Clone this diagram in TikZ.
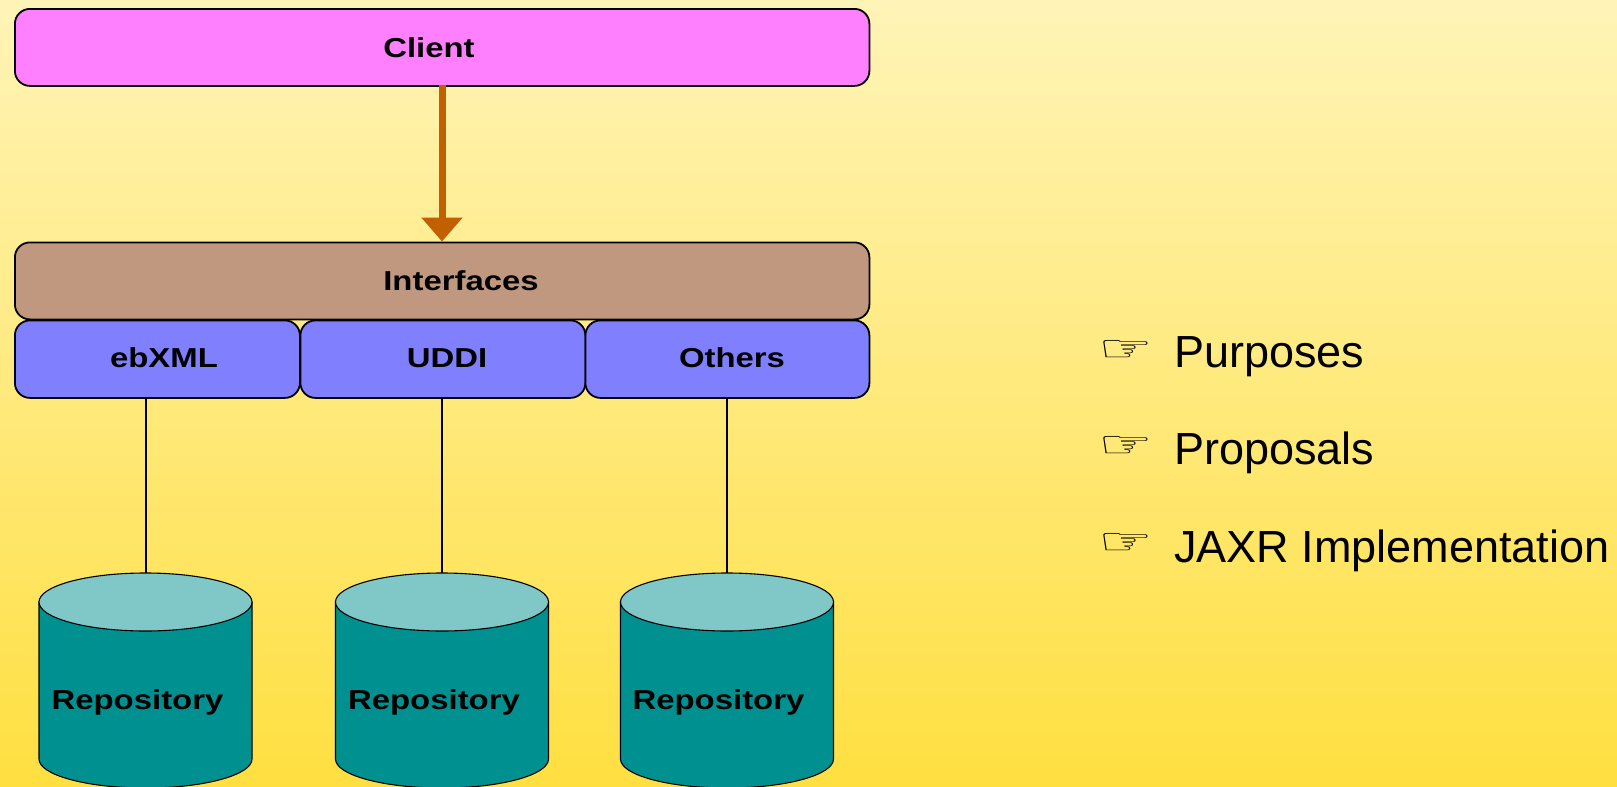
\documentclass[tikz,border=0pt]{standalone}
\usepackage{fontspec}
\setmainfont{Liberation Sans}
\newfontfamily\boldwide[FakeStretch=1.2]{Liberation Sans Bold}
\newfontfamily\handfont[FakeStretch=1.65]{DejaVu Sans}
\usetikzlibrary{arrows.meta}
\definecolor{bgtop}{HTML}{FFF4B8}
\definecolor{bgbot}{HTML}{FFDF40}
\definecolor{clientfill}{HTML}{FF80FF}
\definecolor{ifacefill}{HTML}{C09880}
\definecolor{protofill}{HTML}{8080FF}
\definecolor{cylbody}{HTML}{009090}
\definecolor{cyltop}{HTML}{80C7C7}
\definecolor{arrowcol}{HTML}{C06000}
\tikzset{
  layerbox/.style={draw=black,line width=1.8pt,rounded corners=15pt,inner sep=0pt,anchor=north west},
  boxlabel/.style={font=\boldwide\fontsize{27.4}{30}\selectfont,anchor=base,inner sep=0pt,text=black},
  link/.style={draw=black,line width=2pt},
  bullet/.style={font=\fontsize{45}{50}\selectfont,anchor=base west,inner sep=0pt,text=black},
  hand/.style={font=\handfont\fontsize{37}{40}\selectfont,anchor=base west,inner sep=0pt,text=black},
  pics/repocyl/.style={code={
    \coordinate (-top) at (0,0);
    \draw[fill=cylbody,draw=black,line width=1.1pt]
      (-106.5,29) -- (-106.5,186)
      .. controls (-106.5,202) and (-58.8,215) .. (0,215)
      .. controls (58.8,215) and (106.5,202) .. (106.5,186)
      -- (106.5,29) -- cycle;
    \draw[fill=cyltop,draw=black,line width=1.1pt]
      (-106.5,29) .. controls (-106.5,13) and (-58.8,0) .. (0,0)
      .. controls (58.8,0) and (106.5,13) .. (106.5,29)
      .. controls (106.5,45) and (58.8,58) .. (0,58)
      .. controls (-58.8,58) and (-106.5,45) .. (-106.5,29) -- cycle;
  }},
}
\begin{document}
\begin{tikzpicture}[x=1pt,y=-1pt]
\useasboundingbox (0,0) rectangle (1617,787);
\shade[top color=bgtop,bottom color=bgbot] (0,0) rectangle (1617,787);

\node[layerbox,fill=clientfill,minimum width=854.5pt,minimum height=77pt] (client) at (14,8) {};
\node[layerbox,fill=ifacefill,minimum width=854.5pt,minimum height=77pt] (iface) at (14,241.5) {};
\node[layerbox,fill=protofill,minimum width=285pt,minimum height=77.5pt] (ebxml) at (14,319.5) {};
\node[layerbox,fill=protofill,minimum width=285pt,minimum height=77.5pt] (uddi) at (299.5,319.5) {};
\node[layerbox,fill=protofill,minimum width=284pt,minimum height=77.5pt] (others) at (584.5,319.5) {};

\coordinate (arrowstart) at (442,85);
\coordinate (arrowend) at (442,241.5);
\draw[arrowcol,line width=7pt,-{Triangle[length=24pt,width=40pt]}] (arrowstart) -- (arrowend);

\pic (repoa) at (145.5,573) {repocyl};
\pic (repob) at (442,573) {repocyl};
\pic (repoc) at (727,573) {repocyl};

\draw[link] (ebxml.south -| repoa-top) -- (repoa-top);
\draw[link] (uddi.south -| repob-top) -- (repob-top);
\draw[link] (others.south -| repoc-top) -- (repoc-top);

\node[boxlabel] (lclient) at (429,57) {Client};
\node[boxlabel] (liface) at (461,290) {Interfaces};
\node[boxlabel] (lebxml) at (164,367.5) {ebXML};
\node[boxlabel] (luddi) at (447,367.5) {UDDI};
\node[boxlabel] (lothers) at (732,367.5) {Others};
\node[boxlabel] (lrepoa) at (137.5,709) {Repository};
\node[boxlabel] (lrepob) at (434,709) {Repository};
\node[boxlabel] (lrepoc) at (718.5,709) {Repository};

\node[hand] (h1) at (1098,361) {☞};
\node[hand] (h2) at (1098,457.5) {☞};
\node[hand] (h3) at (1098,554.5) {☞};
\node[bullet] (t1) at (1174,367) {Purposes};
\node[bullet] (t2) at (1174,464) {Proposals};
\node[bullet] (t3) at (1174,562) {JAXR Implementation};
\end{tikzpicture}
\end{document}
